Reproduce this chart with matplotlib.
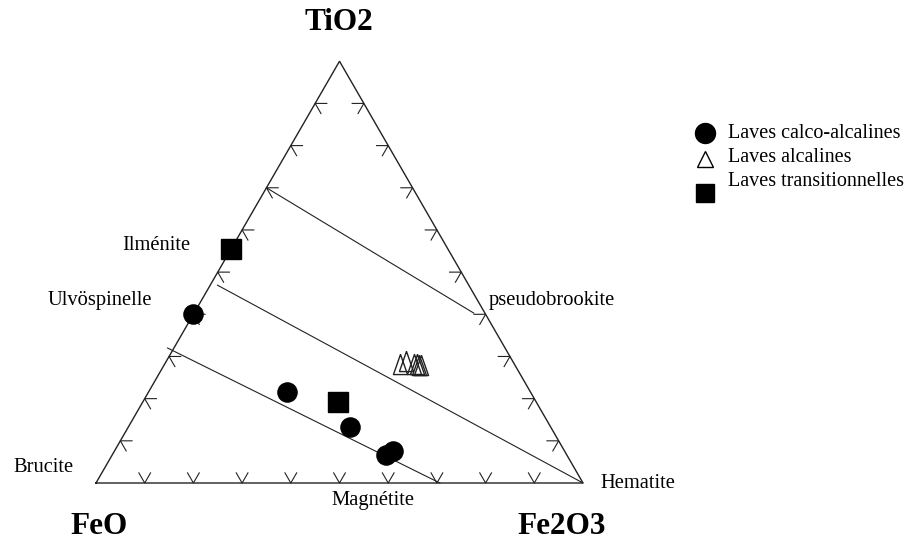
import numpy as np
import matplotlib.pyplot as plt

plt.rcParams['font.family'] = ['Liberation Serif', 'DejaVu Serif']

# compositions in % (TiO2, FeO, Fe2O3)
calco_tio2 = [40.0, 21.6, 13.3, 6.6, 7.6]
calco_feo = [60.0, 49.9, 41.2, 37.2, 35.2]
calco_fe2o3 = [0.0, 28.5, 45.5, 56.2, 57.2]

alca_tio2 = [28.2, 28.9, 28.2, 28.2, 28.0, 28.0]
alca_feo = [23.5, 21.9, 20.6, 20.0, 19.7, 19.2]
alca_fe2o3 = [48.3, 49.2, 51.2, 51.8, 52.3, 52.8]

trans_tio2 = [55.6, 19.1]
trans_feo = [44.4, 40.7]
trans_fe2o3 = [0.0, 40.2]

# tie lines: start and end compositions (TiO2, FeO, Fe2O3)
tie_lines = [
    [(70.0, 30.0, 0.0), (40.3, 2.3, 57.4)],
    [(46.9, 51.6, 1.5), (0.0, 0.0, 100.0)],
    [(32.0, 69.3, -1.3), (0.0, 29.4, 70.6)],
]
tick_steps = [0.1, 0.2, 0.3, 0.4, 0.5, 0.6, 0.7, 0.8, 0.9]

legend_labels = ['Laves calco-alcalines', 'Laves alcalines', 'Laves transitionnelles']

S3 = np.sqrt(3) / 2


def tern(tio2, feo, fe2o3):
    t = np.asarray(tio2, float)
    o = np.asarray(feo, float)
    f = np.asarray(fe2o3, float)
    tot = t + o + f
    t, f = t / tot, f / tot
    return f + t / 2, t * S3


W, H = 909, 545
fig = plt.figure(figsize=(W / 100, H / 100), dpi=100)
ax = fig.add_axes([0, 0, 1, 1])
side = 487.0          # pixels per unit side
x0, y0 = 96.0, 483.0  # FeO corner in pixels
ax.set_xlim(-x0 / side, (W - x0) / side)
ax.set_ylim((y0 - H) / side, y0 / side)
ax.axis('off')


def px(x, y):
    return x / W, 1 - y / H


# frame
ax.plot([0, 1, 0.5, 0], [0, 0, S3, 0], color='#222222', lw=1.0, solid_joinstyle='miter')

# ticks
L = 0.024
c60, s60 = 0.5, S3
for k in tick_steps:
    # left edge (FeO - TiO2)
    x, y = k / 2, k * S3
    ax.plot([x + L, x, x + c60 * L], [y, y, y - s60 * L], color='#222222', lw=0.8)
    # bottom edge (FeO - Fe2O3)
    x, y = k, 0
    ax.plot([x - c60 * L, x, x + c60 * L], [y + s60 * L, y, y + s60 * L], color='#222222', lw=0.8)
    # right edge (Fe2O3 - TiO2)
    x, y = 1 - k / 2, k * S3
    ax.plot([x - L, x, x - c60 * L], [y, y, y - s60 * L], color='#222222', lw=0.8)

for a, b in tie_lines:
    xs, ys = tern([a[0], b[0]], [a[1], b[1]], [a[2], b[2]])
    ax.plot(xs, ys, color='#222222', lw=0.8)

tri_marker = [(0, 1), (-0.7, -1), (0.7, -1), (0, 1)]

x, y = tern(calco_tio2, calco_feo, calco_fe2o3)
ax.plot(x, y, 'o', color='black', ms=13.8, zorder=5)
x, y = tern(alca_tio2, alca_feo, alca_fe2o3)
ax.plot(x, y, marker=tri_marker, ls='none', mfc='none', mec='#222222', mew=1.0, ms=14.5, zorder=5)
x, y = tern(trans_tio2, trans_feo, trans_fe2o3)
ax.plot(x, y, 's', color='black', ms=13.8, zorder=5)

# corner labels
ax.text(*px(339, 22), 'TiO2', transform=ax.transAxes, ha='center', va='center',
        fontsize=22.5, fontweight='bold')
ax.text(*px(99, 527), 'FeO', transform=ax.transAxes, ha='center', va='center',
        fontsize=22.5, fontweight='bold')
ax.text(*px(562, 527), 'Fe2O3', transform=ax.transAxes, ha='center', va='center',
        fontsize=22.5, fontweight='bold')

# mineral labels
minerals = [
    ('Brucite', 13, 467, 'left'),
    ('Hematite', 600, 484, 'left'),
    ('Magnétite', 373, 501, 'center'),
    ('Ilménite', 122, 246, 'left'),
    ('Ulvöspinelle', 48, 301, 'left'),
    ('pseudobrookite', 489, 300, 'left'),
]
for name, mx, my, ha in minerals:
    ax.text(*px(mx, my), name, transform=ax.transAxes, ha=ha, va='center', fontsize=14.8)

# legend
ax.plot(*px(705, 133), 'o', color='black', ms=14.4, transform=ax.transAxes, clip_on=False)
ax.plot(*px(705, 159), '^', mfc='white', mec='black', mew=1.0, ms=11, transform=ax.transAxes, clip_on=False)
ax.plot(*px(705, 193), 's', color='black', ms=13, transform=ax.transAxes, clip_on=False)
for lab, ly in zip(legend_labels, [134, 158, 181]):
    ax.text(*px(728, ly), lab, transform=ax.transAxes, ha='left', va='center', fontsize=14.5)

fig.savefig('out.png', dpi=100)
